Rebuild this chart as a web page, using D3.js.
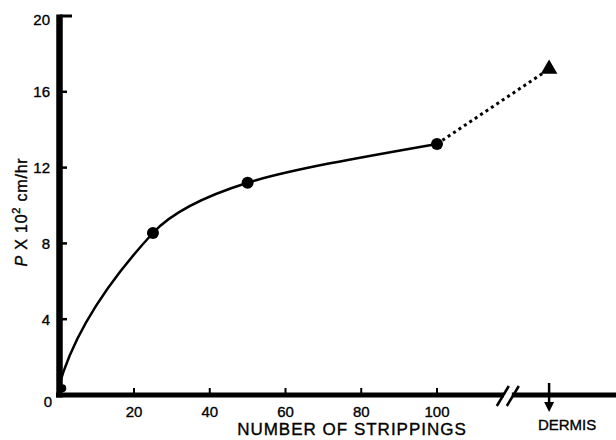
<!DOCTYPE html>
<html>
<head>
<meta charset="utf-8">
<script src="https://cdn.jsdelivr.net/npm/d3@7"></script>
<style>
  body { margin: 0; background: #fff; }
  text { font-family: "Liberation Sans", Arial, sans-serif; fill: #000; stroke: #000; stroke-width: 0.35px; }
</style>
</head>
<body>
<div id="container"></div>
<script>
// data
const strippings = [0, 25, 50, 100];
const permeability = [0.35, 8.55, 11.2, 13.25];
const dermisValue = 17.2;
const xTicks = [20, 40, 60, 80, 100];
const yTicks = [0, 4, 8, 12, 16, 20];

const width = 616, height = 440;

// where the axis break and the dermis point sit, in stripping units past 100
const breakPos = 118.7;
const dermisPos = 129.6;

const xScale = d3.scaleLinear().domain([0, 147]).range([58.25, 615]);
const yScale = d3.scaleLinear().domain([0, 20]).range([395, 16]);

// hermite curve with x as a function of y (the hand drawn curve rises steeply first)
function curveHandDrawn(context) {
  let pts = [];
  return {
    areaStart() {}, areaEnd() {},
    lineStart() { pts = []; },
    point(x, y) { pts.push([+x, +y]); },
    lineEnd() {
      const n = pts.length;
      if (n < 2) return;
      const s = [];
      for (let i = 0; i < n - 1; i++) {
        s.push((pts[i + 1][0] - pts[i][0]) / (pts[i + 1][1] - pts[i][1]));
      }
      const m = new Array(n);
      for (let i = 1; i < n - 1; i++) {
        m[i] = (pts[i + 1][0] - pts[i - 1][0]) / (pts[i + 1][1] - pts[i - 1][1]);
      }
      m[0] = (3 * s[0] - m[1]) / 2 * 0.6;
      m[n - 1] = (3 * s[n - 2] - m[n - 2]) / 2;
      context.moveTo(pts[0][0], pts[0][1]);
      for (let i = 0; i < n - 1; i++) {
        const h = pts[i + 1][1] - pts[i][1];
        context.bezierCurveTo(
          pts[i][0] + m[i] * h / 3, pts[i][1] + h / 3,
          pts[i + 1][0] - m[i + 1] * h / 3, pts[i + 1][1] - h / 3,
          pts[i + 1][0], pts[i + 1][1]);
      }
    }
  };
}

const svg = d3.select("#container").append("svg")
  .attr("width", width)
  .attr("height", height);

const y0 = yScale(0);

// smooth curve through the stripping points
const pts = strippings.map((s, i) => [s, permeability[i]]);
const line = d3.line()
  .x(d => xScale(d[0]))
  .y(d => yScale(d[1]))
  .curve(curveHandDrawn);

svg.append("path")
  .datum(pts)
  .attr("d", line)
  .attr("fill", "none")
  .attr("stroke", "#000")
  .attr("stroke-width", 2.5);

// thick axis lines
svg.append("line")
  .attr("x1", 56).attr("x2", width)
  .attr("y1", y0).attr("y2", y0)
  .attr("stroke", "#000").attr("stroke-width", 5);

svg.append("line")
  .attr("x1", 59.5).attr("x2", 59.5)
  .attr("y1", yScale(20) - 1.5).attr("y2", y0 + 2.5)
  .attr("stroke", "#000").attr("stroke-width", 6.5);

// y ticks + labels
svg.selectAll(".ytick")
  .data(yTicks.filter(d => d > 0))
  .join("line")
  .attr("x1", 60).attr("x2", d => d == 20 ? 72 : 67)
  .attr("y1", d => yScale(d)).attr("y2", d => yScale(d))
  .attr("stroke", "#000").attr("stroke-width", d => d == 20 ? 3 : 2.5);

svg.selectAll(".ylab")
  .data(yTicks)
  .join("text")
  .attr("x", d => d == 0 ? 52 : 50)
  .attr("y", d => d == 0 ? 407 : d == 20 ? yScale(d) + 9 : yScale(d) + 5.5)
  .attr("text-anchor", "end")
  .attr("font-size", 15)
  .text(d => d);

// x ticks + labels
svg.selectAll(".xtick")
  .data(xTicks)
  .join("line")
  .attr("x1", d => xScale(d)).attr("x2", d => xScale(d))
  .attr("y1", y0).attr("y2", y0 - 7)
  .attr("stroke", "#000").attr("stroke-width", 2);

svg.selectAll(".xlab")
  .data(xTicks)
  .join("text")
  .attr("x", d => xScale(d))
  .attr("y", 417)
  .attr("text-anchor", "middle")
  .attr("font-size", 15)
  .text(d => d);

// axis break: gap in the axis with two slashes
const bx = xScale(breakPos);
svg.append("rect")
  .attr("x", bx - 4).attr("y", y0 - 4)
  .attr("width", 8).attr("height", 8)
  .attr("fill", "#fff");
[-5, 5].forEach(off => {
  svg.append("line")
    .attr("x1", bx + off - 6).attr("y1", y0 + 11)
    .attr("x2", bx + off + 6).attr("y2", y0 - 9)
    .attr("stroke", "#000").attr("stroke-width", 2.5);
});

// dermis marker: tick through the axis and a down arrow
const dx = xScale(dermisPos);
svg.append("line")
  .attr("x1", dx).attr("x2", dx)
  .attr("y1", y0 - 12).attr("y2", y0 + 8)
  .attr("stroke", "#000").attr("stroke-width", 2.5);
svg.append("path")
  .attr("d", `M${dx - 5},${y0 + 7} L${dx + 5},${y0 + 7} L${dx},${y0 + 17} Z`)
  .attr("fill", "#000");
svg.append("text")
  .attr("x", dx + 18).attr("y", 430)
  .attr("text-anchor", "middle")
  .attr("font-size", 15)
  .text("DERMIS");

// axis titles
svg.append("text")
  .attr("x", 352).attr("y", 435)
  .attr("text-anchor", "middle")
  .attr("font-size", 17)
  .attr("letter-spacing", 1)
  .text("NUMBER OF STRIPPINGS");

const ylab = svg.append("text")
  .attr("transform", "translate(27,212) rotate(-90)")
  .attr("text-anchor", "middle")
  .attr("font-size", 16)
  .attr("letter-spacing", 0.8);
ylab.append("tspan").attr("font-style", "italic").text("P");
ylab.append("tspan").text(" X 10");
ylab.append("tspan").attr("font-size", 11).attr("dy", -7).text("2");
ylab.append("tspan").attr("dy", 7).text(" cm/hr");

// dotted extension up to the dermis value
svg.append("line")
  .attr("x1", xScale(100)).attr("y1", yScale(permeability[3]))
  .attr("x2", dx).attr("y2", yScale(dermisValue))
  .attr("stroke", "#000").attr("stroke-width", 3)
  .attr("stroke-dasharray", "3,3.5");

svg.selectAll(".dot")
  .data(pts)
  .join("circle")
  .attr("cx", d => xScale(d[0]) + (d[0] == 0 ? 4 : 0))
  .attr("cy", d => yScale(d[1]))
  .attr("r", d => d[0] == 0 ? 4 : 6)
  .attr("fill", "#000");

svg.append("path")
  .attr("d", d3.symbol(d3.symbolTriangle, 120)())
  .attr("transform", `translate(${dx},${yScale(dermisValue)})`)
  .attr("fill", "#000");
</script>
</body>
</html>
